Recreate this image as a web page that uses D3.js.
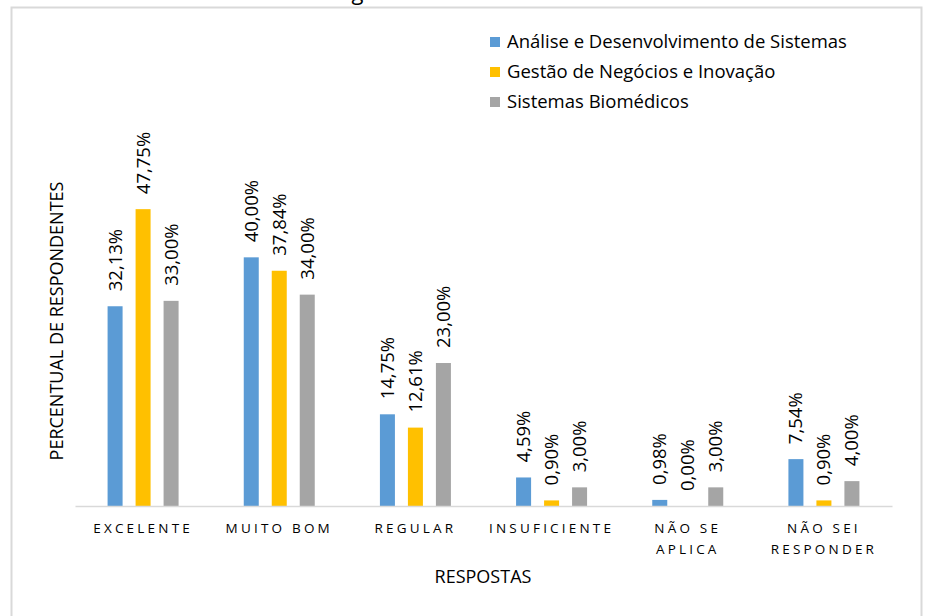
<!DOCTYPE html>
<meta charset="utf-8">
<head>
  <title>Respostas</title>
</head>
<style>
body { margin: 0; background: #fff; }
text { font-family: "Open Sans", "Liberation Sans", sans-serif; fill: #000; }
.axis path, .axis line { stroke: #d9d9d9; }
.tick text { font-size: 13.5px; letter-spacing: 3.2px; }
</style>
<body>
<script src="https://d3js.org/d3.v7.min.js"></script>
<script>

// categories and series
var categories = ["EXCELENTE", "MUITO BOM", "REGULAR", "INSUFICIENTE", "NÃO SE|APLICA", "NÃO SEI|RESPONDER"];
var seriesNames = ["Análise e Desenvolvimento de Sistemas", "Gestão de Negócios e Inovação", "Sistemas Biomédicos"];
var colors = ["#5b9bd5", "#ffc000", "#a5a5a5"];

// percent values, one array per series
var ads = [32.13, 40.00, 14.75, 4.59, 0.98, 7.54];
var gni = [47.75, 37.84, 12.61, 0.90, 0.00, 0.90];
var sb  = [33.00, 34.00, 23.00, 3.00, 3.00, 4.00];
var seriesValues = [ads, gni, sb];

var W = 927, H = 616;
var margin = {top: 133, right: 35, bottom: 110, left: 75},
    width = W - margin.left - margin.right,
    height = H - margin.top - margin.bottom;

var svg = d3.select("body").append("svg")
    .attr("width", W)
    .attr("height", H);

// title, mostly above the visible area
svg.append("text")
    .attr("x", 468)
    .attr("y", 0)
    .attr("text-anchor", "middle")
    .style("font-size", "22px")
    .text("Figura 3 – Ambiente social");

// chart border
svg.append("rect")
    .attr("x", 11.5)
    .attr("y", 7.5)
    .attr("width", 910)
    .attr("height", 620)
    .attr("fill", "#fff")
    .attr("stroke", "#d9d9d9")
    .attr("stroke-width", 2);

var g = svg.append("g")
    .attr("transform", "translate(" + margin.left + "," + margin.top + ")");

// scales
var x0 = d3.scaleBand().domain(categories).range([0, width]).padding(0);
var x1 = d3.scaleBand().domain([0, 1, 2]).range([0, 71]).paddingInner(0.464).paddingOuter(0);
var y = d3.scaleLinear().domain([0, 60]).range([height, 0]);
var off = (x0.bandwidth() - 71) / 2;

// bars
categories.forEach(function(c, i) {
  var grp = g.append("g")
      .attr("transform", "translate(" + (x0(c) + off) + ",0)");
  seriesValues.forEach(function(vals, s) {
    var v = vals[i];
    grp.append("rect")
        .attr("x", x1(s))
        .attr("y", y(v))
        .attr("width", x1.bandwidth())
        .attr("height", height - y(v))
        .attr("fill", colors[s]);
    // value label, rotated
    var lx = x1(s) + x1.bandwidth() / 2, ly = y(v) - 15;
    grp.append("text")
        .attr("transform", "translate(" + lx + "," + ly + ") rotate(-90)")
        .attr("dy", "0.35em")
        .style("font-size", "18.5px")
        .text(v.toFixed(2).replace(".", ",") + "%");
  });
});

// x axis
var xAxis = g.append("g")
    .attr("class", "axis")
    .attr("transform", "translate(0," + height + ")")
    .call(d3.axisBottom(x0).tickSize(0).tickPadding(0));
xAxis.select(".domain").attr("stroke-width", 1.5);
xAxis.selectAll(".tick text").each(function(d) {
  var t = d3.select(this).text("").attr("dy", null).attr("y", null);
  d.split("|").forEach(function(part, k) {
    t.append("tspan")
        .attr("x", 0)
        .attr("y", 27 + k * 20.5)
        .text(part);
  });
});

// axis titles
svg.append("text")
    .attr("transform", "translate(63,321) rotate(-90)")
    .attr("text-anchor", "middle")
    .style("font-size", "18px")
    .text("PERCENTUAL DE RESPONDENTES");

svg.append("text")
    .attr("x", 483)
    .attr("y", 583)
    .attr("text-anchor", "middle")
    .style("font-size", "18px")
    .text("RESPOSTAS");

// legend
seriesNames.forEach(function(n, s) {
  var ly = 42 + s * 30;
  svg.append("rect")
      .attr("x", 490)
      .attr("y", ly - 5)
      .attr("width", 10)
      .attr("height", 10)
      .attr("fill", colors[s]);
  svg.append("text")
      .attr("x", 507)
      .attr("y", ly)
      .attr("dy", "0.35em")
      .style("font-size", "18.5px")
      .text(n);
});

</script>
</body>
